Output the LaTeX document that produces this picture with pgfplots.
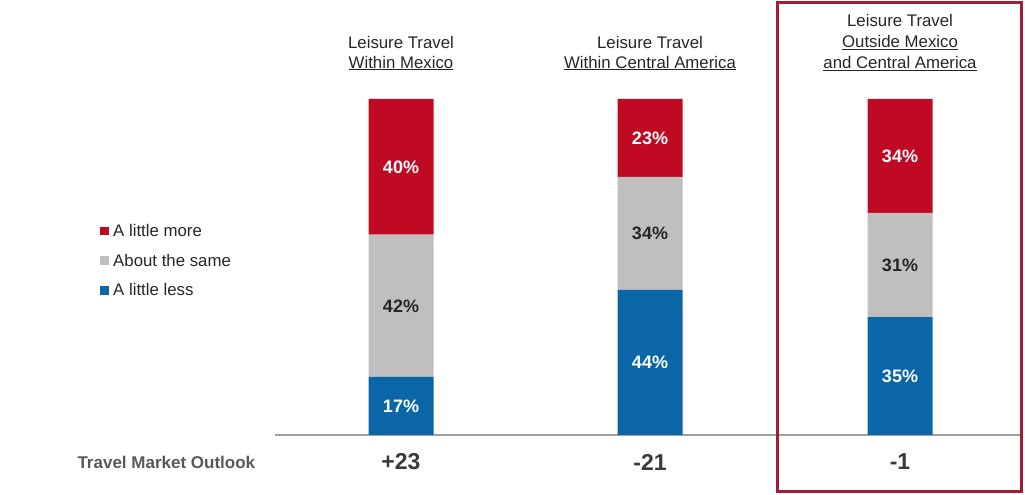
\documentclass[border=0pt]{standalone}
\usepackage{fontspec}
\setmainfont{Liberation Sans}
\usepackage{pgfplots}
\pgfplotsset{compat=1.18}
\definecolor{cred}{HTML}{C00A23}
\definecolor{cgray}{HTML}{BFBFBF}
\definecolor{cblue}{HTML}{0B66A8}
\definecolor{cbox}{HTML}{A51C36}
\definecolor{ctext}{HTML}{262626}
\definecolor{cdark}{HTML}{3A3A3A}
\definecolor{cgraytext}{HTML}{595959}
\begin{document}
\begin{tikzpicture}
\pgfplotsset{
  base/.style={scale only axis, width=1025pt, height=495pt,
    xmin=0, xmax=1025, ymin=-17.857, ymax=129.464,
    hide axis, clip=false},
  sq/.style={legend image code/.code={\fill[##1] (0pt,-4.25pt) rectangle (8.5pt,4.25pt);}},
}
\begin{axis}[base,
  ybar stacked, bar width=65pt, bar shift=0pt,
  reverse legend,
  legend style={at={(rel axis cs:0.0976,0.5475)}, anchor=north west,
    draw=none, fill=none, font=\fontsize{16.8}{19}\selectfont, text=ctext,
    row sep=16pt, inner sep=0pt, nodes={inner xsep=4.5pt, inner ysep=0pt}, cells={anchor=west}},
]
\addplot[fill=cblue, draw=none, sq] coordinates {(401,17.3) (650,43.2) (900,35.1)};
\addplot[fill=cgray, draw=none, sq] coordinates {(401,42.3) (650,33.6) (900,31.0)};
\addplot[fill=cred, draw=none, sq] coordinates {(401,40.4) (650,23.2) (900,33.9)};
\legend{A little less, About the same, A little more}
\draw[gray!75, line width=1.5pt] (axis cs:275,0) -- (axis cs:1020,0);
\end{axis}
\begin{axis}[base]
\addplot[only marks, mark=none, nodes near coords, point meta=explicit symbolic,
  every node near coord/.style={anchor=center, text=white, font=\fontsize{18}{20}\selectfont\bfseries}]
  coordinates {(401,8.65)[17\%] (401,79.8)[40\%] (650,21.6)[44\%] (650,88.4)[23\%] (900,17.55)[35\%] (900,83.05)[34\%]};
\addplot[only marks, mark=none, nodes near coords, point meta=explicit symbolic,
  every node near coord/.style={anchor=center, text=ctext, font=\fontsize{18}{20}\selectfont\bfseries}]
  coordinates {(401,38.45)[42\%] (650,60.0)[34\%] (900,50.6)[31\%]};
% titles
\node[align=center, text=ctext, font=\fontsize{16.8}{20}\selectfont] at (axis cs:401,113.69) {Leisure Travel\\\underline{Within Mexico}};
\node[align=center, text=ctext, font=\fontsize{16.8}{20}\selectfont] at (axis cs:650,113.69) {Leisure Travel\\\underline{Within Central America}};
\node[align=center, text=ctext, font=\fontsize{16.8}{21}\selectfont] at (axis cs:900,116.82) {Leisure Travel\\\underline{Outside Mexico}\\\underline{and Central America}};
% bottom row
\node[anchor=west, text=cgraytext, font=\fontsize{17}{20}\selectfont\bfseries] at (axis cs:74,-8.04) {Travel Market Outlook};
\node[text=cdark, font=\fontsize{23}{26}\selectfont\bfseries] at (axis cs:401,-8.04) {+23};
\node[text=cdark, font=\fontsize{23}{26}\selectfont\bfseries] at (axis cs:650,-8.04) {-21};
\node[text=cdark, font=\fontsize{23}{26}\selectfont\bfseries] at (axis cs:900,-8.04) {-1};
% highlight box
\draw[cbox, line width=3pt] (axis cs:777,-16.96) rectangle (axis cs:1021,128.57);
\end{axis}
\pgfresetboundingbox
\path[use as bounding box] (current axis.south west) rectangle (current axis.north east);
\end{tikzpicture}
\end{document}
